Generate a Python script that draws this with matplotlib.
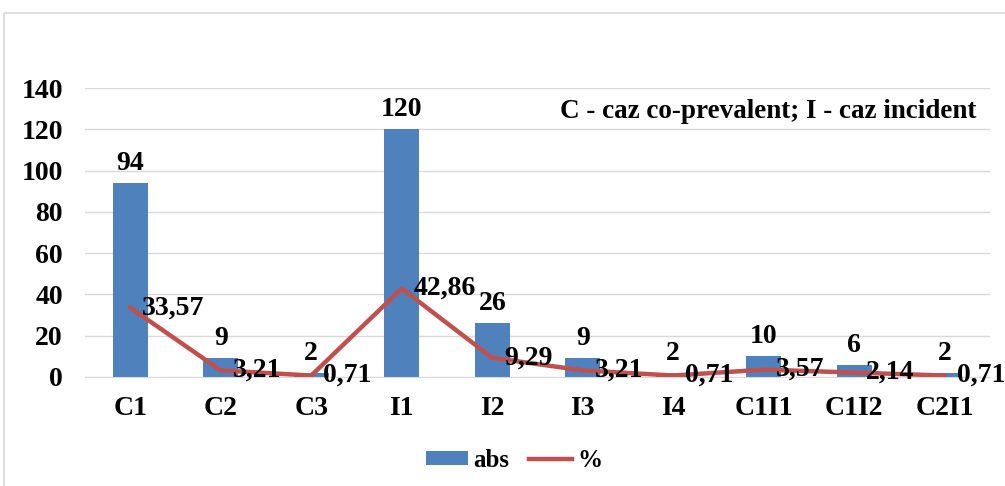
import matplotlib
matplotlib.use("Agg")
import matplotlib.pyplot as plt
from matplotlib.patches import Rectangle

categories = ["C1", "C2", "C3", "I1", "I2", "I3", "I4", "C1I1", "C1I2", "C2I1"]
abs_vals = [94, 9, 2, 120, 26, 9, 2, 10, 6, 2]
pct_vals = [33.57, 3.21, 0.71, 42.86, 9.29, 3.21, 0.71, 3.57, 2.14, 0.71]
yticks = [0, 20, 40, 60, 80, 100, 120, 140]

plt.rcParams['font.family'] = ['Liberation Serif', 'DejaVu Serif']
plt.rcParams['font.weight'] = 'bold'

FS = 20

fig = plt.figure(figsize=(10.05, 4.86), dpi=100)
ax = fig.add_axes([85/1005, 1 - 377/486, (990 - 85)/1005, (377 - 88)/486])

bar_color = "#4F81BD"
line_color = "#C0504D"
x = list(range(len(categories)))
ax.bar(x, abs_vals, width=0.39, color=bar_color, zorder=2, label="abs")
ax.plot(x, pct_vals, color=line_color, linewidth=3.2, zorder=3, label="%")

for xi, v in zip(x, abs_vals):
    ax.annotate(f"{v}", (xi, v), xytext=(0, 5), textcoords="offset points",
                ha="center", va="bottom", fontsize=FS, fontweight="bold", zorder=4)
for xi, v in zip(x, pct_vals):
    ax.annotate(f"{v:.2f}".replace(".", ","), (xi, v), xytext=(8.5, 0), textcoords="offset points",
                ha="left", va="center", fontsize=FS, fontweight="bold", zorder=4,
                annotation_clip=False)

ax.set_xlim(-0.5, len(categories) - 0.5)
ax.set_ylim(0, 140)
ax.set_yticks(yticks)
ax.set_xticks(x)
ax.set_xticklabels(categories)
ax.tick_params(axis='both', length=0, labelsize=FS)
ax.tick_params(axis='x', pad=14)
ax.tick_params(axis='y', pad=16)
for lab in ax.get_xticklabels() + ax.get_yticklabels():
    lab.set_fontweight('bold')
ax.grid(axis='y', color="#D9D9D9", linewidth=1, zorder=0)
ax.set_axisbelow(True)
for s in ["top", "right", "left"]:
    ax.spines[s].set_visible(False)
ax.spines["bottom"].set_color("#D9D9D9")

ax.text(0.985, 0.92, "C - caz co-prevalent; I - caz incident", transform=ax.transAxes,
        ha="right", va="center", fontsize=19.5, fontweight="bold")

handles, labels = ax.get_legend_handles_labels()
order = [labels.index("abs"), labels.index("%")]
leg = fig.legend([handles[i] for i in order], [labels[i] for i in order],
                 loc="center", bbox_to_anchor=(514/1005, 1 - 460/486), ncol=2, frameon=False,
                 fontsize=18, handlelength=1.7, handleheight=0.5, columnspacing=0.8,
                 handletextpad=0.2)
for t in leg.get_texts():
    t.set_fontweight('bold')

fig.patches.append(Rectangle((4/1005, -0.05), 1.1, 1 - 13/486 + 0.05, transform=fig.transFigure,
                             fill=False, edgecolor="#D9D9D9", linewidth=1.2))

fig.savefig("out.png", dpi=100)
